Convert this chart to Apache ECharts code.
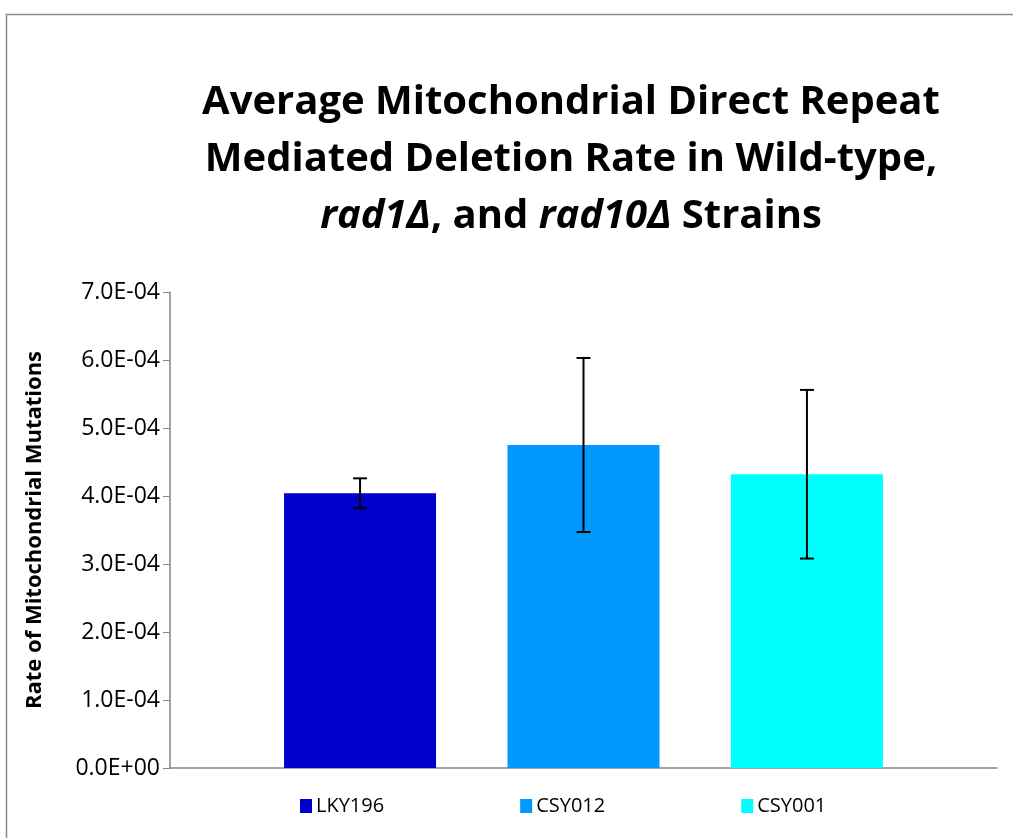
<!DOCTYPE html>
<html>
<head>
<meta charset="utf-8">
<script src="https://cdn.jsdelivr.net/npm/echarts@6/dist/echarts.min.js"></script>
<style>
  html, body { margin: 0; padding: 0; background: #fff; }
  #chart { width: 1013px; height: 838px; }
</style>
</head>
<body>
<div id="chart"></div>
<script>
// strains (one series each, all in a single category like the Excel chart)
var strains = ['LKY196', 'CSY012', 'CSY001'];
var rates = [4.04e-4, 4.75e-4, 4.32e-4];
var errors = [0.22e-4, 1.28e-4, 1.24e-4];
var colors = ['#0000CC', '#0099FF', '#00FFFF'];

var BAR_W = 152;
var GAP = 0.47;

var FONT = '"Open Sans", Lato, sans-serif';

function sci(v) {
    if (Math.abs(v) < 1e-12) return '0.0E+00';
    var s = v.toExponential(1).split('e');
    var e = parseInt(s[1], 10);
    var sign = e < 0 ? '-' : '+';
    e = Math.abs(e);
    return s[0] + 'E' + sign + (e < 10 ? '0' + e : e);
}

var myChart = echarts.init(document.getElementById('chart'));

var series = [];
strains.forEach(function (name, i) {
    series.push({
        name: name,
        type: 'bar',
        data: [rates[i]],
        barWidth: BAR_W,
        barGap: (GAP * 100) + '%',
        itemStyle: { color: colors[i] },
        silent: true
    });
});

// error bars, shifted to sit on each bar
series.push({
    type: 'custom',
    silent: true,
    z: 10,
    data: strains.map(function (name, i) {
        return [0, rates[i] - errors[i], rates[i] + errors[i], i];
    }),
    renderItem: function (params, api) {
        var idx = api.value(3);
        var offset = (idx - (strains.length - 1) / 2) * BAR_W * (1 + GAP);
        var lo = api.coord([0, api.value(1)]);
        var hi = api.coord([0, api.value(2)]);
        var x = lo[0] + offset;
        var cap = 7;
        var style = { stroke: '#000', lineWidth: 2 };
        return {
            type: 'group',
            children: [
                { type: 'line', shape: { x1: x, y1: lo[1], x2: x, y2: hi[1] }, style: style },
                { type: 'line', shape: { x1: x - cap, y1: lo[1], x2: x + cap, y2: lo[1] }, style: style },
                { type: 'line', shape: { x1: x - cap, y1: hi[1], x2: x + cap, y2: hi[1] }, style: style }
            ]
        };
    }
});

var option = {
    backgroundColor: '#fff',
    animation: false,
    title: {
        left: 566,
        top: 69,
        textAlign: 'center',
        text: '{b|Average Mitochondrial Direct Repeat}\n{b|Mediated Deletion Rate in Wild-type,}\n{i|rad1Δ}{b|, and }{i|rad10Δ}{b| Strains}',
        textStyle: {
            rich: {
                b: { fontFamily: FONT, fontSize: 40, fontWeight: 'bold', color: '#000', lineHeight: 57 },
                i: { fontFamily: FONT, fontSize: 40, fontWeight: 'bold', fontStyle: 'italic', color: '#000', lineHeight: 57 }
            }
        }
    },
    legend: {
        bottom: 17,
        left: 295,
        itemWidth: 12,
        itemHeight: 14,
        itemGap: 136,
        icon: 'rect',
        data: strains,
        textStyle: { fontFamily: FONT, fontSize: 20, color: '#000', padding: [0, 0, 0, -1] }
    },
    grid: {
        left: 170,
        right: 16,
        top: 292,
        bottom: 70,
        containLabel: false
    },
    xAxis: {
        type: 'category',
        data: [''],
        axisLine: { lineStyle: { color: '#868686', width: 1.5 } },
        axisTick: { show: false },
        axisLabel: { show: false }
    },
    yAxis: {
        type: 'value',
        min: 0,
        max: 7e-4,
        interval: 1e-4,
        name: 'Rate of Mitochondrial Mutations',
        nameLocation: 'middle',
        nameGap: 124,
        nameTextStyle: { fontFamily: FONT, fontSize: 22, fontWeight: 'bold', color: '#000' },
        axisLine: { show: true, lineStyle: { color: '#868686', width: 1.5 } },
        axisTick: { show: true, inside: false, length: 7, lineStyle: { color: '#868686' } },
        splitLine: { show: false },
        axisLabel: {
            fontFamily: FONT,
            fontSize: 23,
            color: '#000',
            margin: 10,
            formatter: sci
        }
    },
    graphic: [{
        type: 'rect',
        left: 4,
        top: 12,
        shape: { width: 1200, height: 1000 },
        style: { fill: 'none', stroke: '#8c8c8c', lineWidth: 1.5 },
        silent: true,
        z: -1
    }],
    series: series
};

myChart.setOption(option);
</script>
</body>
</html>
